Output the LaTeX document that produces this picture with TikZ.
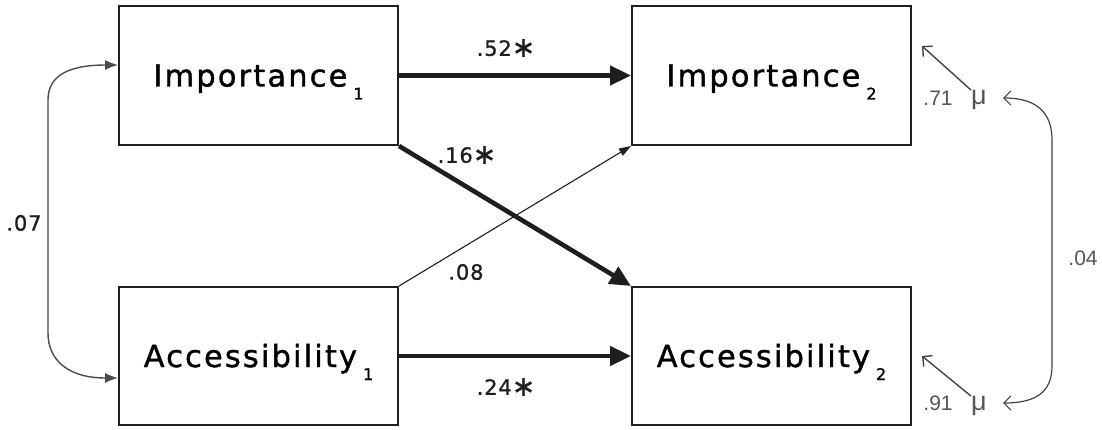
\documentclass[tikz,border=0pt]{standalone}
\usepackage{fontspec}
\setmainfont{DejaVu Sans}
\newfontfamily\boxfont[LetterSpace=7,FakeBold=1.2]{DejaVu Sans}
\newfontfamily\numfont[LetterSpace=4,FakeBold=1]{DejaVu Sans}
\newfontfamily\errfont{Liberation Sans}
\usetikzlibrary{arrows.meta}
\definecolor{ink}{HTML}{1E1E1E}
\definecolor{soft}{HTML}{555555}
\newcommand{\subidx}[1]{\hspace{6pt}\smash{\raisebox{-13pt}{\fontsize{16pt}{16pt}\selectfont #1}}}
\tikzset{
  var/.style={draw=ink, line width=2pt, rectangle, minimum width=279pt,
    inner sep=0pt, text height=22pt, text depth=0pt,
    font=\boxfont\fontsize{30.5pt}{30pt}\selectfont},
  bigpath/.style={draw=ink, line width=4.6pt, -{Triangle[length=21pt,width=19pt]}},
  smallpath/.style={draw=ink, line width=1.1pt, -{Triangle[length=12pt,width=8pt]}},
  cov/.style={draw=ink!80, line width=1.4pt, {Latex[length=13pt,width=10pt]}-{Latex[length=13pt,width=10pt]}},
  errpath/.style={draw=soft!80!black, line width=1.4pt, -{Straight Barb[length=7pt,width=14pt]}},
  errcov/.style={draw=soft!80!black, line width=1.2pt, {Straight Barb[length=7pt,width=14pt]}-{Straight Barb[length=7pt,width=14pt]}},
  coef/.style={inner sep=1pt, font=\numfont\fontsize{21pt}{21pt}\selectfont, text=ink},
  errlab/.style={inner sep=1pt, font=\errfont\fontsize{21pt}{21pt}\selectfont, text=soft},
}
\newcommand{\sig}{\raisebox{-1pt}{\fontsize{28pt}{28pt}\selectfont ∗}}
\begin{document}
\begin{tikzpicture}[x=1pt,y=-1pt]
  \useasboundingbox (0,0) rectangle (1102,430);
  \fill[white] (0,0) rectangle (1102,430);

  % observed variables at the two time points
  \node[var, minimum height=139pt] (imp1) at (258.5,75.5) {Importance\subidx{1}};
  \node[var, minimum height=138pt] (acc1) at (258.5,356) {Accessibility\subidx{1}};
  \node[var, minimum height=139pt] (imp2) at (771.5,75.5) {Importance\subidx{2}};
  \node[var, minimum height=138pt] (acc2) at (771.5,356) {Accessibility\subidx{2}};

  % cross-lagged and stability paths
  \draw[bigpath] (imp1.east) -- (imp2.west);
  \draw[bigpath] (acc1.east) -- (acc2.west);
  \draw[bigpath] (imp1.south east) -- (acc2.north west);
  \draw[smallpath] (acc1.north east) -- (imp2.south west);

  \node[coef] (b52) at (506,48) {.52\sig};
  \node[coef] (b24) at (506,387) {.24\sig};
  \node[coef] (b16) at (467,155) {.16\sig};
  \node[coef] (b08) at (466,272) {.08};

  % correlation between time-1 variables
  \coordinate (l1) at (118,65);
  \coordinate (l2) at (118,378);
  \draw[cov] (l1) .. controls (68,65) and (48,76) .. (48,100) -- (48,333)
    .. controls (48,360) and (68,378) .. (l2);
  \node[coef] (r07) at (24,223) {.07};

  % disturbances of the time-2 variables
  \node[errlab, inner sep=0pt, font=\errfont\fontsize{27pt}{27pt}\selectfont] (mu1) at (979,100) {μ};
  \node[errlab, inner sep=0pt, font=\errfont\fontsize{27pt}{27pt}\selectfont] (mu2) at (979,406) {μ};
  \coordinate (t1) at (922,46);
  \coordinate (t2) at (922,356);
  \draw[errpath] (mu1.north west) -- (t1);
  \draw[errpath] (mu2.north west) -- (t2);
  \node[errlab] (e71) at (938,98) {.71};
  \node[errlab] (e91) at (938,403) {.91};

  \coordinate (d1) at (1003,98);
  \coordinate (d2) at (1003,403);
  \draw[errcov] (d1) .. controls (1036,98) and (1052,112) .. (1052,140) -- (1052,366)
    .. controls (1052,392) and (1036,403) .. (d2);
  \node[errlab] (e04) at (1083,258) {.04};
\end{tikzpicture}
\end{document}
